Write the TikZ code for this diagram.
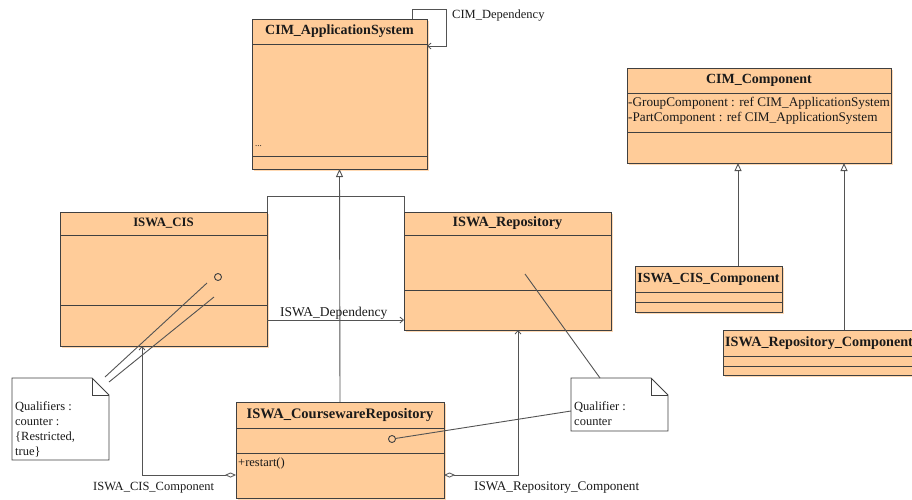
\documentclass[tikz,border=0pt]{standalone}
\usepackage{fontspec}
\setmainfont{Liberation Serif}
\usetikzlibrary{arrows.meta,calc,shadows}
\definecolor{cls}{HTML}{FFCC99}
\definecolor{clsshadow}{HTML}{FFD9B3}
\definecolor{ln}{HTML}{404040}
\definecolor{txt}{HTML}{1A1A1A}
\begin{document}
\begin{tikzpicture}[x=1pt,y=-1pt,
  classbox/.style={draw=ln, fill=cls, line width=0.9pt, inner sep=0pt, outer sep=0pt, anchor=north west,
    drop shadow={shadow xshift=1.6pt, shadow yshift=-1.6pt, fill=clsshadow, opacity=1}},
  sepline/.style={draw=ln, line width=0.9pt},
  ctitle/.style={font=\fontsize{13.5}{15}\selectfont\bfseries, text=txt, inner sep=0pt},
  ctext/.style={font=\fontsize{12.5}{15}\selectfont, text=txt, inner sep=0pt, anchor=west},
  conn/.style={draw=ln!90, line width=0.9pt},
  gen/.style={conn, -{Triangle[open, length=8pt, width=7pt, line width=0.9pt]}},
  dep/.style={conn, -{Straight Barb[length=3.5pt, width=6pt, line width=0.8pt]}},
  agg/.style={conn, {Diamond[open, length=11pt, width=5pt, line width=0.8pt]}-{Straight Barb[length=3.5pt, width=6pt, line width=0.8pt]}},
  notebox/.style={inner sep=0pt, outer sep=0pt, anchor=north west},
  notedraw/.style={draw=ln, fill=white, line width=0.9pt},
  dot/.style={circle, draw=ln, fill=cls, line width=0.9pt, inner sep=0pt, minimum size=7pt}
]
\useasboundingbox (0,0) rectangle (912,499);

% ---------- classes ----------
\node[classbox, minimum width=175, minimum height=150] (cas) at (252,19) {};
\draw[sepline] ($(cas.north west)+(0,25)$) -- ($(cas.north east)+(0,25)$);
\draw[sepline] ($(cas.north west)+(0,137)$) -- ($(cas.north east)+(0,137)$);
\node[ctitle, font=\fontsize{14}{15}\selectfont\bfseries] (castitle) at ($(cas.north)+(0,12.5)$) {CIM\_ApplicationSystem};
\node[ctext] (casdots) at (255,146) {\fontsize{9}{10}\selectfont...};

\node[classbox, minimum width=207, minimum height=134] (cis) at (60,212) {};
\draw[sepline] ($(cis.north west)+(0,23)$) -- ($(cis.north east)+(0,23)$);
\draw[sepline] ($(cis.north west)+(0,93)$) -- ($(cis.north east)+(0,93)$);
\node[ctitle, font=\fontsize{12.8}{15}\selectfont\bfseries] (cistitle) at ($(cis.north)+(0,11.5)$) {ISWA\_CIS};

\node[classbox, minimum width=207, minimum height=118] (rep) at (404,212) {};
\draw[sepline] ($(rep.north west)+(0,23)$) -- ($(rep.north east)+(0,23)$);
\draw[sepline] ($(rep.north west)+(0,78)$) -- ($(rep.north east)+(0,78)$);
\node[ctitle, font=\fontsize{14.2}{15}\selectfont\bfseries] (reptitle) at ($(rep.north)+(0,11.5)$) {ISWA\_Repository};

\node[classbox, minimum width=208, minimum height=96] (cwr) at (236,402) {};
\draw[sepline] ($(cwr.north west)+(0,26)$) -- ($(cwr.north east)+(0,26)$);
\draw[sepline] ($(cwr.north west)+(0,51)$) -- ($(cwr.north east)+(0,51)$);
\node[ctitle, font=\fontsize{14.5}{15}\selectfont\bfseries] (cwrtitle) at ($(cwr.north)+(0,13)$) {ISWA\_CoursewareRepository};
\node[ctext] (cwrop) at (238,463) {+restart()};

\node[classbox, minimum width=264, minimum height=95] (cimc) at (627,68) {};
\draw[sepline] ($(cimc.north west)+(0,25)$) -- ($(cimc.north east)+(0,25)$);
\draw[sepline] ($(cimc.north west)+(0,64)$) -- ($(cimc.north east)+(0,64)$);
\node[ctitle, font=\fontsize{14}{15}\selectfont\bfseries] (cimctitle) at ($(cimc.north)+(0,12)$) {CIM\_Component};
\node[ctext, font=\fontsize{13.2}{15}\selectfont] (cimca1) at (628,103) {-GroupComponent : ref CIM\_ApplicationSystem};
\node[ctext, font=\fontsize{13.2}{15}\selectfont] (cimca2) at (628,118) {-PartComponent : ref CIM\_ApplicationSystem};

\node[classbox, minimum width=147, minimum height=46] (ciscomp) at (635,266) {};
\draw[sepline] ($(ciscomp.north west)+(0,26)$) -- ($(ciscomp.north east)+(0,26)$);
\draw[sepline] ($(ciscomp.north west)+(0,36)$) -- ($(ciscomp.north east)+(0,36)$);
\node[ctitle, font=\fontsize{13.9}{15}\selectfont\bfseries] (ciscomptitle) at ($(ciscomp.north)+(0,13)$) {ISWA\_CIS\_Component};

\node[classbox, minimum width=200, minimum height=45] (repcomp) at (723,330) {};
\draw[sepline] ($(repcomp.north west)+(0,26)$) -- ($(repcomp.north east)+(0,26)$);
\draw[sepline] ($(repcomp.north west)+(0,36)$) -- ($(repcomp.north east)+(0,36)$);
\node[ctitle, anchor=west, font=\fontsize{14.2}{15}\selectfont\bfseries] (repcomptitle) at ($(repcomp.north west)+(2,13)$) {ISWA\_Repository\_Component};

% ---------- qualifier circles ----------
\node[dot] (q1) at (218,277) {};
\node[dot] (q2) at (392,439) {};

% ---------- notes ----------
\node[notebox, minimum width=97, minimum height=82] (n1) at (12,378) {};
\draw[notedraw] (n1.north west) -- ($(n1.north east)+(-17,0)$) -- ($(n1.north east)+(0,17)$)
  -- (n1.south east) -- (n1.south west) -- cycle;
\draw[notedraw, fill=none] ($(n1.north east)+(-17,0)$) -- ++(0,17) -- ++(17,0);
\node[ctext, anchor=north west, align=left] (n1text) at (15,401.5)
  {Qualifiers :\\counter :\\\{Restricted,\\true\}};

\node[notebox, minimum width=97, minimum height=53] (n2) at (571,378) {};
\draw[notedraw] (n2.north west) -- ($(n2.north east)+(-17,0)$) -- ($(n2.north east)+(0,17)$)
  -- (n2.south east) -- (n2.south west) -- cycle;
\draw[notedraw, fill=none] ($(n2.north east)+(-17,0)$) -- ++(0,17) -- ++(17,0);
\node[ctext, anchor=north west, align=left] (n2text) at (574,401.5) {Qualifier :\\counter};

% ---------- connectors ----------
% generalization tree to CIM_ApplicationSystem
\coordinate (jn) at (340,196);
\draw[gen] (cwr.north) -- (cas.south);
\draw[conn] (cis.north east) |- (jn);
\draw[conn] (rep.north west) |- (jn);

% self dependency
\coordinate (sd1) at ($(cas.north east)+(-15,0)$);
\coordinate (sd2) at ($(cas.north east)+(19,-10)$);
\coordinate (sd3) at ($(cas.north east)+(0,27)$);
\draw[dep] (sd1) |- (sd2) |- (sd3);
\node[ctext] (cimdep) at (452,16) {CIM\_Dependency};

% ISWA_Dependency
\coordinate (d1) at ($(cis.north east)+(0,108)$);
\coordinate (d2) at ($(rep.north west)+(0,108)$);
\draw[dep] (d1) -- (d2);
\node[ctext, font=\fontsize{13.5}{15}\selectfont] (iswadep) at (280,313) {ISWA\_Dependency};

% aggregations
\coordinate (a1) at ($(cwr.north west)+(0,73)$);
\coordinate (a1t) at (142,346);
\draw[agg] (a1) -| (a1t);
\node[ctext] (a1lab) at (93,488) {ISWA\_CIS\_Component};

\coordinate (a2) at ($(cwr.north east)+(0,73)$);
\coordinate (a2t) at (518,330);
\draw[agg] (a2) -| (a2t);
\node[ctext, font=\fontsize{13.2}{15}\selectfont] (a2lab) at (474,488) {ISWA\_Repository\_Component};

% CIM_Component generalizations
\draw[gen] (ciscomp.north -| 738,0) -- (cimc.south -| 738,0);
\draw[gen] (repcomp.north -| 844,0) -- (cimc.south -| 844,0);

% note anchors
\coordinate (nl1a) at (105,377);
\coordinate (nl1b) at (207,283);
\coordinate (nl2a) at (109,382);
\coordinate (nl2b) at (214,297);
\draw[conn] (nl1a) -- (nl1b);
\draw[conn] (nl2a) -- (nl2b);
\coordinate (nr1a) at (600,378);
\coordinate (nr1b) at (525,274);
\draw[conn] (nr1a) -- (nr1b);
\coordinate (nr2a) at (571,411);
\draw[conn] (nr2a) -- (q2);
\end{tikzpicture}
\end{document}
